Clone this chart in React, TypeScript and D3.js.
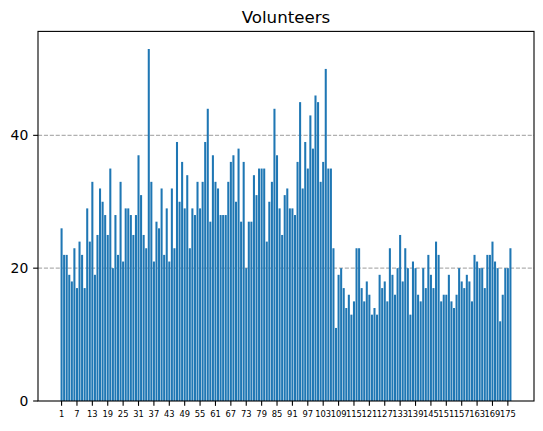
import * as d3 from 'd3'

// volunteers per entry (entries 1..176)
const volunteers = [
  26, 22, 22, 19, 18, 23, 17, 24, 22, 17, 29, 24, 33, 19, 25, 32, 30,
  28, 25, 35, 20, 28, 22, 33, 21, 29, 29, 28, 25, 28, 37, 31, 25, 23, 53,
  33, 21, 27, 26, 32, 22, 29, 21, 32, 23, 39, 30, 36, 29, 34, 23, 29,
  28, 33, 29, 33, 39, 44, 27, 37, 33, 32, 28, 28, 28, 33, 36, 37, 30, 38,
  27, 36, 20, 27, 27, 34, 31, 35, 35, 35, 24, 30, 33, 44, 37, 29, 25,
  31, 32, 29, 29, 28, 36, 45, 32, 39, 35, 43, 38, 46, 45, 33, 36, 50, 35,
  35, 23, 11, 19, 20, 17, 14, 16, 13, 15, 23, 23, 17, 15, 18, 16, 13,
  14, 13, 19, 17, 18, 15, 23, 19, 16, 20, 25, 18, 23, 20, 13, 21, 20, 16,
  15, 20, 17, 22, 19, 17, 24, 22, 15, 16, 16, 19, 15, 14, 16, 20, 18, 17,
  19, 18, 15, 22, 21, 20, 20, 17, 22, 22, 24, 21, 20, 12, 16, 20, 20, 23,
]
const entries = volunteers.map((_, i) => i + 1)
const xTicks = [1, 7, 13, 19, 25, 31, 37, 43, 49, 55, 61, 67, 73, 79, 85, 91, 97, 103, 109, 115, 121, 127, 133, 139, 145, 151, 157, 163, 169, 175]
const yTicks = [0, 20, 40]

const width = 543
const height = 431
const margin = { top: 31.4, right: 9, bottom: 30, left: 38 }
const barColor = '#1f77b4'
const font = 'DejaVu Sans, sans-serif'

export default function App() {
  const x0 = margin.left
  const x1 = width - margin.right
  const yBottom = height - margin.bottom
  const yTop = margin.top

  const n = entries.length
  const span = n - 1 + 0.8
  const xScale = d3.scaleLinear()
    .domain([1 - 0.4 - 0.05 * span, n + 0.4 + 0.05 * span])
    .range([x0, x1])

  const yScale = d3.scaleLinear()
    .domain([0, (d3.max(volunteers) || 0) * 1.05])
    .range([yBottom, yTop])

  const barW = xScale(0.8) - xScale(0)
  const tickLen = 4.86

  return (
    <div>
      <style>{'body{margin:0}'}</style>
      <svg width={width} height={height} style={{ display: 'block', background: '#fff' }}>
        {/* grid behind bars */}
        {yTicks.filter(t => t > 0).map(t => (
          <line key={'g' + t} x1={x0} x2={x1} y1={yScale(t)} y2={yScale(t)}
            stroke="#b0b0b0" strokeWidth={1.1} strokeDasharray="4.1,1.8" />
        ))}

        {volunteers.map((v, i) => (
          <rect key={i}
            x={xScale(entries[i]) - barW / 2}
            y={yScale(v)}
            width={barW}
            height={yBottom - yScale(v)}
            fill={barColor} />
        ))}

        <rect x={x0} y={yTop} width={x1 - x0} height={yBottom - yTop}
          fill="none" stroke="#000" strokeWidth={1.1} />

        {xTicks.map(t => (
          <g key={'x' + t} transform={`translate(${xScale(t)},${yBottom})`}>
            <line y1={0} y2={tickLen} stroke="#000" strokeWidth={1.1} />
            <text y={tickLen + 4.86 + 6.3} textAnchor="middle" fontSize={8.33} fontFamily={font}>{t}</text>
          </g>
        ))}

        {yTicks.map(t => (
          <g key={'y' + t} transform={`translate(${x0},${yScale(t)})`}>
            <line x1={-tickLen} x2={0} stroke="#000" strokeWidth={1.1} />
            <text x={-tickLen - 4.86} dy="0.35em" textAnchor="end" fontSize={13.9} fontFamily={font}>{t}</text>
          </g>
        ))}

        <text x={(x0 + x1) / 2} y={yTop - 8.3} textAnchor="middle" fontSize={16.67} fontFamily={font}>Volunteers</text>
      </svg>
    </div>
  )
}
